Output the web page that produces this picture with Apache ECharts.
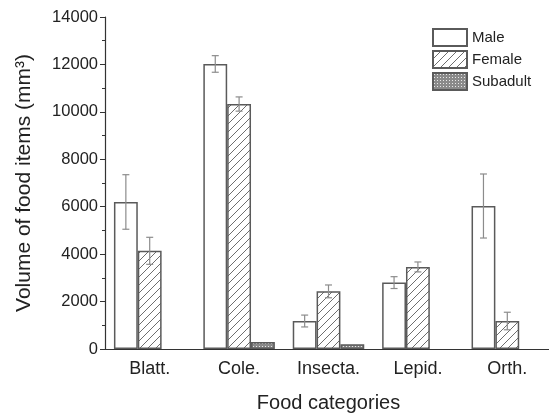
<!DOCTYPE html>
<html>
<head>
<meta charset="utf-8">
<script src="https://cdn.jsdelivr.net/npm/echarts@6/dist/echarts.min.js"></script>
<style>html,body{margin:0;padding:0;background:#fff}#c{width:549px;height:414px}</style>
</head>
<body>
<div id="c"></div>
<script>
const categories = ['Blatt.', 'Cole.', 'Insecta.', 'Lepid.', 'Orth.'];
const seriesNames = ['Male', 'Female', 'Subadult'];
const maleValues = [6200, 12020, 1180, 2800, 6030];
const maleErrors = [1150, 350, 250, 250, 1350];
const femaleValues = [4140, 10330, 2430, 3460, 1180];
const femaleErrors = [570, 300, 270, 210, 370];
const subadultValues = [null, 300, 200, null, null];
const subadultErrors = [null, null, null, null, null];
const yTicks = [0, 2000, 4000, 6000, 8000, 10000, 12000, 14000];

function hatchPattern() {
  const c = document.createElement('canvas');
  c.width = 8; c.height = 8;
  const g = c.getContext('2d');
  g.fillStyle = '#fff'; g.fillRect(0, 0, 8, 8);
  g.strokeStyle = '#6e6e6e'; g.lineWidth = 1;
  g.beginPath();
  g.moveTo(-1, 9); g.lineTo(9, -1);
  g.moveTo(-1, 1); g.lineTo(1, -1);
  g.moveTo(7, 9); g.lineTo(9, 7);
  g.stroke();
  return c;
}
function dotPattern() {
  const c = document.createElement('canvas');
  c.width = 3; c.height = 3;
  const g = c.getContext('2d');
  g.fillStyle = '#8a8a8a'; g.fillRect(0, 0, 3, 3);
  g.fillStyle = '#e8e8e8'; g.fillRect(1, 1, 1, 1);
  return c;
}

const fills = ['#ffffff', { image: hatchPattern(), repeat: 'repeat' }, { image: dotPattern(), repeat: 'repeat' }];
const valuesList = [maleValues, femaleValues, subadultValues];
const errorsList = [maleErrors, femaleErrors, subadultErrors];

const chart = echarts.init(document.getElementById('c'), null, { renderer: 'canvas' });
const font = 'Arial, "Liberation Sans", sans-serif';

const series = [];
seriesNames.forEach((name, k) => {
  series.push({
    name: name,
    type: 'bar',
    data: valuesList[k],
    barGap: '0%',
    barCategoryGap: '20%',
    itemStyle: { color: fills[k], borderColor: '#5a5a5a', borderWidth: 1.5 },
    emphasis: { disabled: true }
  });
});
seriesNames.forEach((name, k) => {
  const data = [];
  valuesList[k].forEach((v, i) => {
    if (v != null && errorsList[k][i] != null) data.push([i, v, errorsList[k][i]]);
  });
  series.push({
    type: 'custom',
    name: name + ' err',
    data: data,
    z: 5,
    silent: true,
    encode: { x: 0, y: 1 },
    renderItem: function (params, api) {
      const i = api.value(0), v = api.value(1), e = api.value(2);
      const band = api.size([1, 0])[0];
      const barW = band * 0.8 / 3;
      const p = api.coord([i, v]);
      const x = p[0] + (k - 1) * barW;
      const top = api.coord([i, v + e])[1];
      const bot = api.coord([i, v - e])[1];
      const cap = 3.5;
      const st = { stroke: '#8c8c8c', lineWidth: 1.2 };
      return {
        type: 'group',
        children: [
          { type: 'line', shape: { x1: x, y1: top, x2: x, y2: bot }, style: st },
          { type: 'line', shape: { x1: x - cap, y1: top, x2: x + cap, y2: top }, style: st },
          { type: 'line', shape: { x1: x - cap, y1: bot, x2: x + cap, y2: bot }, style: st }
        ]
      };
    }
  });
});

chart.setOption({
  animation: false,
  backgroundColor: '#fff',
  grid: { left: 105, top: 17, width: 447, height: 332, containLabel: false, outerBoundsMode: 'none' },
  legend: {
    data: seriesNames,
    icon: 'rect',
    orient: 'vertical',
    left: 427, top: 23,
    itemWidth: 34, itemHeight: 17, itemGap: 3,
    textStyle: { fontFamily: font, fontSize: 15, color: '#222' },
    selectedMode: false
  },
  xAxis: [{
    type: 'category',
    data: categories,
    name: 'Food categories',
    nameLocation: 'middle',
    nameGap: 44,
    nameTextStyle: { fontFamily: font, fontSize: 20, color: '#222' },
    axisLine: { lineStyle: { color: '#333', width: 1.2 } },
    axisTick: { alignWithLabel: true, length: 6, lineStyle: { color: '#333' } },
    axisLabel: { fontFamily: font, fontSize: 18, color: '#222', margin: 11 },
    splitLine: { show: false }
  }, {
    type: 'category',
    data: categories,
    position: 'bottom',
    axisLine: { show: false },
    axisTick: { alignWithLabel: false, length: 3, lineStyle: { color: '#333' } },
    axisLabel: { show: false },
    splitLine: { show: false }
  }],
  yAxis: {
    type: 'value',
    min: yTicks[0],
    max: yTicks[yTicks.length - 1],
    interval: 2000,
    name: 'Volume of food items (mm³)',
    nameLocation: 'middle',
    nameGap: 70,
    nameTextStyle: { fontFamily: font, fontSize: 21, color: '#222' },
    axisLine: { show: true, lineStyle: { color: '#333', width: 1.2 } },
    axisTick: { show: true, length: 5, lineStyle: { color: '#333' } },
    minorTick: { show: true, splitNumber: 2, length: 3, lineStyle: { color: '#333' } },
    axisLabel: { fontFamily: font, fontSize: 16.5, color: '#222', margin: 7, formatter: function (v) { return String(v); } },
    splitLine: { show: false }
  },
  series: series
});
</script>
</body>
</html>
